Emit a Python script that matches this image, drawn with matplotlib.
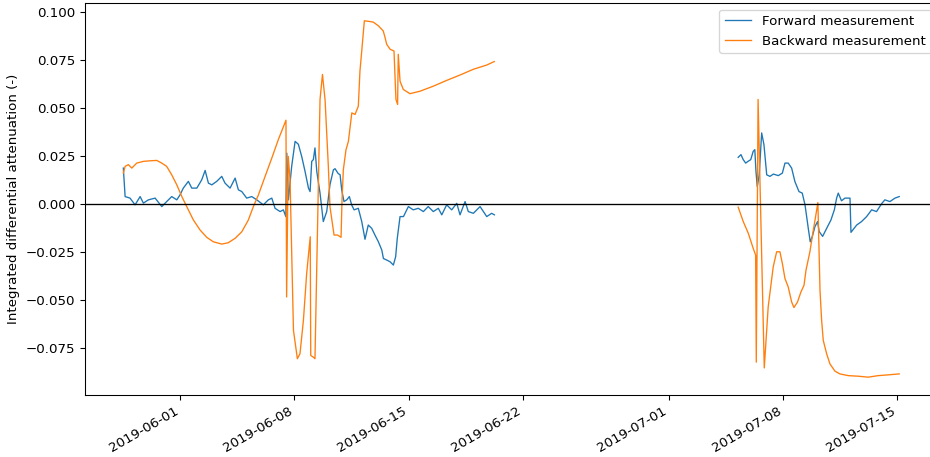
import numpy as np
import pandas as pd
import matplotlib
matplotlib.use("Agg")
import matplotlib.pyplot as plt

# time given as days since 2019-06-01
T0 = pd.Timestamp("2019-06-01")

fwd_jun_day = [-3.50, -3.39, -3.09, -2.78, -2.47, -2.27, -1.96, -1.55, -1.14, -0.84,
               -0.53, -0.22, -0.02, 0.18, 0.49, 0.70, 1.01, 1.31, 1.52, 1.72,
               1.93, 2.23, 2.54, 2.74, 3.05, 3.36, 3.56, 3.77, 4.07, 4.38,
               4.69, 5.09, 5.40, 5.61, 5.81, 6.12, 6.32, 6.47, 6.53, 6.63,
               6.83, 7.04, 7.24, 7.45, 7.65, 7.86, 7.96, 8.06, 8.16, 8.26,
               8.37, 8.57, 8.77, 8.98, 9.18, 9.39, 9.49, 9.69, 9.80, 9.90,
               10.04, 10.21, 10.37, 10.51, 10.66, 10.92, 11.13, 11.33, 11.53, 11.74,
               11.94, 12.15, 12.36, 12.46, 12.66, 12.87, 13.07, 13.21, 13.31, 13.48,
               13.69, 13.99, 14.29, 14.60, 14.91, 15.21, 15.52, 15.83, 16.04, 16.34,
               16.65, 16.96, 17.16, 17.47, 17.67, 17.98, 18.39, 18.80, 19.10, 19.27]
fwd_jun_val = [0.0186, 0.0038, 0.0030, -0.0005, 0.0038, 0.0004, 0.0021, 0.0030, -0.0014, 0.0012,
               0.0038, 0.0021, 0.0047, 0.0082, 0.0117, 0.0082, 0.0082, 0.0125, 0.0174, 0.0108,
               0.0099, 0.0117, 0.0143, 0.0108, 0.0082, 0.0134, 0.0073, 0.0064, 0.0030, 0.0038,
               0.0021, -0.0005, 0.0021, 0.0030, -0.0023, -0.0040, -0.0031, -0.0066, 0.0264, 0.0021,
               0.0195, 0.0325, 0.0310, 0.0245, 0.0169, 0.0082, 0.0064, 0.0221, 0.0230, 0.0291,
               0.0169, 0.0056, -0.0092, -0.0040, 0.0100, 0.0177, 0.0183, 0.0157, 0.0152, 0.0073,
               0.0012, 0.0021, 0.0038, -0.0005, -0.0031, -0.0023, -0.0092, -0.0184, -0.0110, -0.0127,
               -0.0162, -0.0197, -0.0240, -0.0284, -0.0292, -0.0301, -0.0318, -0.0275, -0.0179, -0.0066,
               -0.0066, -0.0014, -0.0031, -0.0023, -0.0040, -0.0014, -0.0040, -0.0023, -0.0057, -0.0005,
               -0.0031, 0.0003, -0.0057, 0.0012, -0.0040, -0.0049, -0.0014, -0.0066, -0.0049, -0.0057]

bwd_jun_day = [-3.50, -3.39, -3.19, -2.98, -2.68, -2.27, -1.86, -1.45, -1.14, -0.84,
               -0.53, -0.22, 0.09, 0.39, 0.80, 1.21, 1.62, 2.02, 2.54, 2.94,
               3.36, 3.77, 4.17, 4.48, 4.79, 5.20, 5.61, 6.01, 6.48, 6.52,
               6.62, 6.73, 6.94, 7.18, 7.34, 7.55, 7.75, 7.97, 8.00, 8.16,
               8.26, 8.37, 8.47, 8.57, 8.72, 8.88, 9.08, 9.18, 9.43, 9.65,
               9.86, 9.92, 10.00, 10.16, 10.31, 10.52, 10.72, 10.92, 11.02, 11.13,
               11.29, 11.64, 11.84, 12.15, 12.45, 12.56, 12.66, 12.87, 13.11, 13.19,
               13.23, 13.33, 13.37, 13.48, 13.68, 14.09, 14.71, 15.52, 16.34, 17.16,
               17.98, 18.80, 19.26]
bwd_jun_val = [0.0160, 0.0195, 0.0204, 0.0186, 0.0212, 0.0221, 0.0224, 0.0226, 0.0212, 0.0195,
               0.0151, 0.0099, 0.0038, -0.0014, -0.0084, -0.0136, -0.0174, -0.0197, -0.0209, -0.0202,
               -0.0179, -0.0145, -0.0084, -0.0014, 0.0047, 0.0143, 0.0238, 0.0334, 0.0435, -0.0484,
               0.0247, 0.0125, -0.0658, -0.0805, -0.0779, -0.0606, -0.0362, -0.0171, -0.0788, -0.0797,
               -0.0805, -0.0327, 0.0108, 0.0543, 0.0673, 0.0540, 0.0195, -0.0014, -0.0162, -0.0162,
               -0.0174, 0.0021, 0.0177, 0.0280, 0.0325, 0.0473, 0.0465, 0.0508, 0.0691, 0.0795,
               0.0952, 0.0948, 0.0945, 0.0926, 0.0899, 0.0865, 0.0830, 0.0804, 0.0795, 0.0621,
               0.0543, 0.0517, 0.0778, 0.0638, 0.0595, 0.0573, 0.0586, 0.0612, 0.0642, 0.0670,
               0.0700, 0.0722, 0.0740]

fwd_jul_day = [34.23, 34.40, 34.54, 34.69, 34.83, 35.00, 35.15, 35.25, 35.32, 35.40,
               35.52, 35.67, 35.81, 35.98, 36.18, 36.39, 36.69, 36.94, 37.10, 37.30,
               37.51, 37.71, 37.96, 38.16, 38.33, 38.53, 38.65, 38.78, 38.94, 39.10,
               39.20, 39.41, 39.66, 39.92, 40.13, 40.27, 40.37, 40.57, 40.78, 41.09,
               41.15, 41.50, 41.80, 42.11, 42.42, 42.72, 43.03, 43.23, 43.54, 43.85,
               44.11]
fwd_jul_val = [0.0242, 0.0256, 0.0230, 0.0212, 0.0221, 0.0230, 0.0273, 0.0282, 0.0169, 0.0090,
               0.0151, 0.0369, 0.0308, 0.0151, 0.0143, 0.0155, 0.0147, 0.0160, 0.0212, 0.0212,
               0.0186, 0.0116, 0.0064, 0.0056, -0.0005, -0.0127, -0.0197, -0.0169, -0.0118, -0.0092,
               -0.0144, -0.0169, -0.0127, -0.0084, -0.0031, 0.0030, 0.0056, 0.0016, 0.0030, 0.0030,
               -0.0148, -0.0110, -0.0092, -0.0066, -0.0031, -0.0040, 0.0001, 0.0021, 0.0012, 0.0030,
               0.0038]

bwd_jul_day = [34.23, 34.54, 34.85, 35.15, 35.30, 35.34, 35.45, 35.83, 36.07, 36.38,
               36.59, 36.79, 36.94, 37.10, 37.30, 37.51, 37.65, 37.87, 38.08, 38.27,
               38.39, 38.63, 38.84, 38.98, 39.12, 39.25, 39.35, 39.45, 39.66, 39.86,
               40.17, 40.47, 40.98, 41.60, 42.21, 42.82, 43.44, 44.11]
bwd_jul_val = [-0.0017, -0.0092, -0.0153, -0.0231, -0.0266, -0.0823, 0.0543, -0.0853, -0.0536, -0.0327,
               -0.0249, -0.0249, -0.0310, -0.0388, -0.0432, -0.0510, -0.0539, -0.0510, -0.0458, -0.0423,
               -0.0345, -0.0249, -0.0136, -0.0066, 0.0007, -0.0449, -0.0606, -0.0710, -0.0780, -0.0832,
               -0.0870, -0.0884, -0.0893, -0.0896, -0.0901, -0.0893, -0.0889, -0.0884]


def _t(days):
    return T0 + pd.to_timedelta(np.asarray(days), unit="D")


DPI = 96
fig = plt.figure(figsize=(930 / DPI, 457 / DPI), dpi=DPI)
# right edge of the axes sits just past the image border, as in the reference
ax = fig.add_axes([0.0909, 0.1357, 0.9177, 0.8578])

ax.plot(_t(fwd_jun_day), fwd_jun_val, color="#1f77b4", lw=1.0, label="Forward measurement")
ax.plot(_t(bwd_jun_day), bwd_jun_val, color="#ff7f0e", lw=1.0, label="Backward measurement")
ax.plot(_t(fwd_jul_day), fwd_jul_val, color="#1f77b4", lw=1.0)
ax.plot(_t(bwd_jul_day), bwd_jul_val, color="#ff7f0e", lw=1.0)
ax.axhline(0, color="k", lw=1.0)

ax.set_ylabel("Integrated differential attenuation (-)")
ax.legend(loc="upper right")
plt.setp(ax.get_xticklabels(), rotation=30, ha="right")

fig.savefig("out.png", dpi=DPI)
